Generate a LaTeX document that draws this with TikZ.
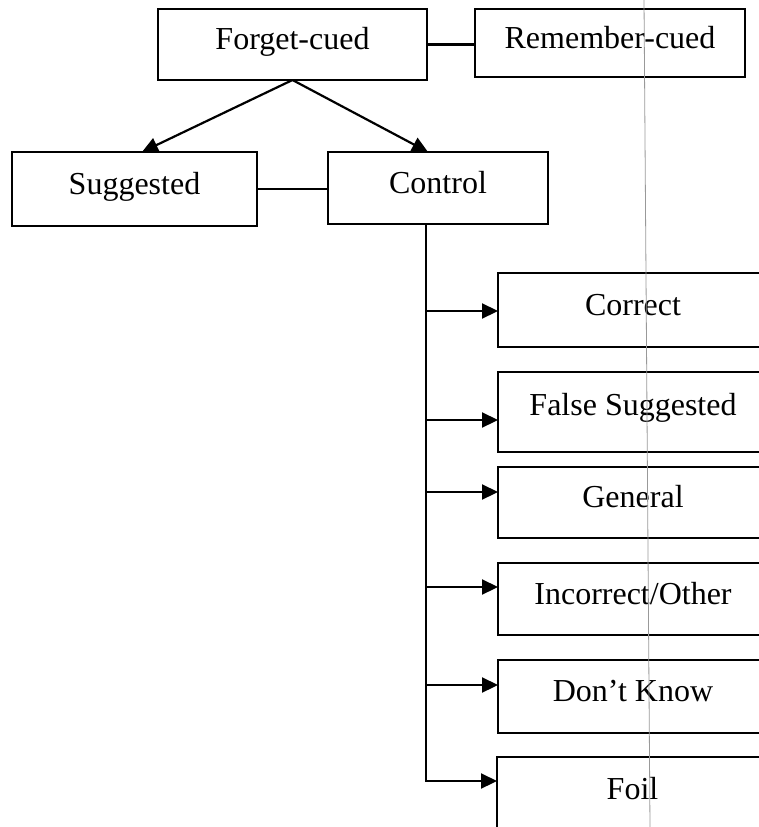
\documentclass[tikz,border=0pt]{standalone}
\usepackage{fontspec}
\setmainfont{Liberation Serif}
\usetikzlibrary{arrows.meta,calc}
\begin{document}
\begin{tikzpicture}[x=1pt,y=-1pt,
  box/.style={draw,line width=2.2pt,inner sep=0pt,outer sep=0pt,
    font=\fontsize{32}{38}\selectfont,text height=22pt,text depth=12pt},
  link/.style={line width=2.2pt},
  arr/.style={line width=2.2pt,-{Triangle[length=16pt,width=15pt]}}]
\useasboundingbox (0,0) rectangle (759,827);
\clip (0,0) rectangle (759,827);
% top row
\node[box,minimum width=269pt,minimum height=71pt] (fc) at (292.5,44.5) {Forget-cued};
\node[box,minimum width=270pt,minimum height=68pt] (rc) at (610,43) {Remember-cued};
% second row
\node[box,minimum width=245pt,minimum height=74pt] (sug) at (134.5,189) {Suggested};
\node[box,minimum width=220pt,minimum height=72pt] (ctl) at (438,188) {Control};
% outcome boxes (cut off at the right edge)
\node[box,minimum width=270pt,minimum height=74pt] (cor) at (633,310) {Correct};
\node[box,minimum width=270pt,minimum height=80pt,text depth=15pt] (fs) at (633,412) {False Suggested};
\node[box,minimum width=270pt,minimum height=71pt] (gen) at (633,502.5) {General};
\node[box,minimum width=270pt,minimum height=72pt] (inc) at (633,599) {Incorrect/Other};
\node[box,minimum width=270pt,minimum height=73pt] (dk) at (633,696.5) {Don’t Know};
\node[box,minimum width=271pt,minimum height=75pt] (foil) at (632.5,794.5) {Foil};
% connectors
\draw[link] (fc.east) -- (fc.east -| rc.west);
\draw[link] (sug.east) -- (sug.east -| ctl.west);
\draw[arr] (fc.south) -- ([xshift=7.5pt]sug.north);
\draw[arr] (fc.south) -- ([xshift=-10pt]ctl.north);
\coordinate (t) at ([xshift=-12pt]ctl.south);
\coordinate (a1) at ([yshift=-1pt]cor.west);
\coordinate (a2) at ([yshift=-8pt]fs.west);
\coordinate (a3) at ([yshift=10.5pt]gen.west);
\coordinate (a4) at ([yshift=12pt]inc.west);
\coordinate (a5) at ([yshift=11.5pt]dk.west);
\coordinate (a6) at ([yshift=13.5pt]foil.west);
\draw[link] (t) -- (t |- a6) -- ([xshift=-14pt]a6);
\draw[arr] (t |- a1) -- (a1);
\draw[arr] (t |- a2) -- (a2);
\draw[arr] (t |- a3) -- (a3);
\draw[arr] (t |- a4) -- (a4);
\draw[arr] (t |- a5) -- (a5);
\draw[arr] (t |- a6) -- (a6);
% faint scan line
\draw[gray!80,line width=0.8pt] (644,0) -- (650,827);
\end{tikzpicture}
\end{document}
